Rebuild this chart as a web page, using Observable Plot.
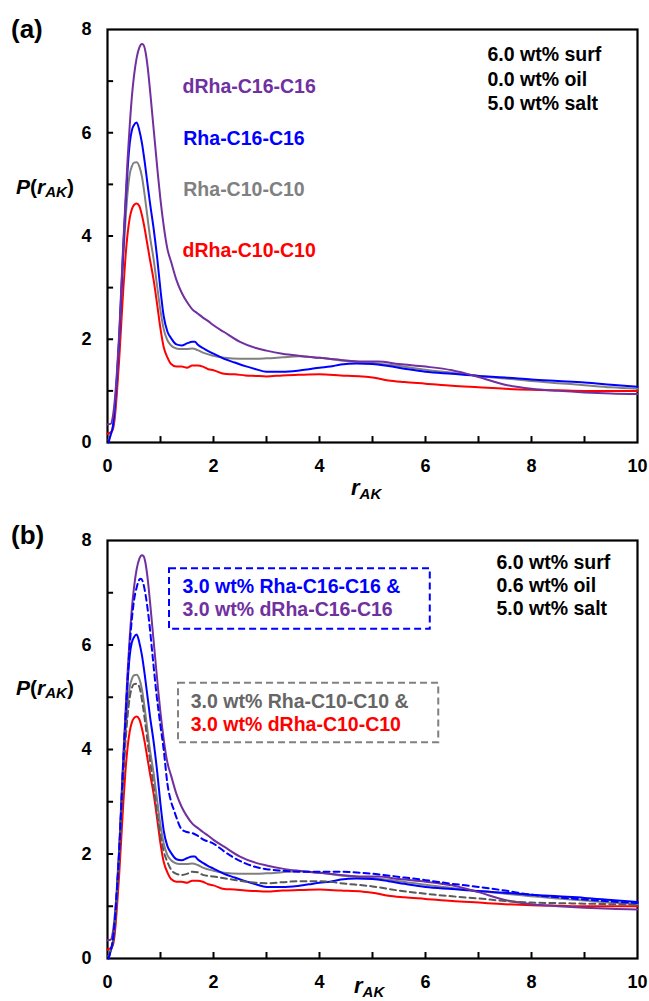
<!DOCTYPE html>
<html><head><meta charset="utf-8">
<script src="https://cdn.jsdelivr.net/npm/d3@7"></script>
<script src="https://cdn.jsdelivr.net/npm/@observablehq/plot@0.6"></script>
<style>
body{margin:0;background:#fff;}
#wrap{position:relative;width:649px;height:1001px;font-family:"Liberation Sans",Arial,sans-serif;}
.panel{position:absolute;left:0;}
svg{overflow:visible}
</style></head><body>
<div id="wrap"><div id="pa" class="panel" style="top:0"></div><div id="pb" class="panel" style="top:505px"></div></div>
<script>
// ---- data ----
const rDRhaC16 = [0,0.06,0.1,0.14,0.18,0.22,0.26,0.3,0.34,0.38,0.42,0.46,0.5,0.55,0.6,0.65,0.68,0.72,0.76,0.8,0.85,0.9,0.95,1.0,1.06,1.13,1.2,1.3,1.4,1.5,1.6,1.7,1.8,1.9,2.0,2.2,2.5,2.8,3.0,3.3,3.6,4.0,4.4,4.8,5.1,5.5,6.0,6.5,7.0,7.5,8.0,8.5,9.0,9.5,10];
const pDRhaC16 = [0.35,0.36,0.5,0.85,1.4,2.1,3.0,3.9,4.7,5.5,6.15,6.7,7.1,7.45,7.65,7.72,7.7,7.55,7.25,6.85,6.3,5.75,5.2,4.7,4.2,3.75,3.5,3.15,2.9,2.72,2.58,2.5,2.42,2.35,2.27,2.14,1.95,1.83,1.78,1.72,1.68,1.64,1.6,1.57,1.57,1.52,1.47,1.4,1.27,1.12,1.04,1.0,0.97,0.95,0.94];

const rRhaC16 = [0.02,0.06,0.1,0.14,0.18,0.22,0.26,0.3,0.34,0.38,0.42,0.46,0.5,0.55,0.6,0.65,0.7,0.75,0.8,0.87,0.94,1.0,1.06,1.13,1.2,1.3,1.4,1.5,1.6,1.65,1.7,1.8,1.9,2.0,2.2,2.4,2.6,2.8,3.0,3.2,3.5,3.8,4.0,4.2,4.4,4.7,5.0,5.3,5.6,6.0,6.5,7.0,7.5,8.0,8.5,9.0,9.5,10];
const pRhaC16 = [0,0.15,0.3,0.7,1.3,2.0,2.9,3.8,4.6,5.3,5.8,6.05,6.15,6.2,6.05,5.8,5.45,5.05,4.65,4.15,3.55,2.95,2.45,2.15,2.02,1.9,1.88,1.92,1.95,1.95,1.9,1.83,1.77,1.72,1.62,1.55,1.48,1.42,1.37,1.37,1.38,1.42,1.45,1.47,1.51,1.53,1.52,1.48,1.43,1.37,1.33,1.29,1.26,1.22,1.19,1.16,1.12,1.08];

const rRhaC10 = [0.02,0.06,0.1,0.14,0.18,0.22,0.26,0.3,0.34,0.38,0.42,0.46,0.5,0.55,0.6,0.65,0.7,0.75,0.8,0.87,0.94,1.0,1.06,1.13,1.2,1.3,1.4,1.5,1.6,1.7,1.8,2.0,2.2,2.5,2.8,3.0,3.3,3.6,4.0,4.5,5.0,5.5,6.0,6.5,7.0,7.5,8.0,8.5,9.0,9.5,10];
const pRhaC10 = [0.05,0.15,0.3,0.65,1.25,1.95,2.8,3.6,4.3,4.85,5.2,5.35,5.42,5.43,5.35,5.15,4.8,4.4,4.0,3.55,3.0,2.55,2.2,1.98,1.88,1.82,1.81,1.81,1.82,1.79,1.74,1.68,1.64,1.62,1.62,1.63,1.65,1.67,1.64,1.58,1.54,1.48,1.41,1.35,1.29,1.24,1.19,1.15,1.11,1.07,1.04];

const rDRhaC10 = [0,0.06,0.1,0.14,0.18,0.22,0.26,0.3,0.34,0.38,0.42,0.46,0.5,0.55,0.6,0.65,0.7,0.75,0.8,0.87,0.94,1.0,1.06,1.13,1.2,1.3,1.4,1.5,1.6,1.7,1.8,1.9,2.0,2.2,2.4,2.6,2.8,3.0,3.3,3.6,4.0,4.4,4.8,5.0,5.3,5.6,6.0,6.5,7.0,7.5,8.0,8.5,9.0,9.5,10];
const pDRhaC10 = [0.17,0.2,0.25,0.5,1.0,1.6,2.3,3.0,3.6,4.05,4.35,4.52,4.6,4.63,4.58,4.4,4.15,3.85,3.55,3.15,2.65,2.2,1.85,1.65,1.52,1.47,1.47,1.45,1.49,1.49,1.47,1.42,1.4,1.33,1.32,1.3,1.29,1.28,1.3,1.31,1.32,1.3,1.28,1.26,1.2,1.17,1.14,1.1,1.07,1.04,1.02,1.01,1.0,1.0,1.0];

// panel (b) mixtures (dashed)
const rMixC16 = [0.02,0.06,0.1,0.14,0.18,0.22,0.26,0.3,0.34,0.38,0.42,0.46,0.5,0.55,0.6,0.63,0.67,0.72,0.78,0.85,0.92,1.0,1.06,1.13,1.2,1.25,1.3,1.4,1.5,1.6,1.7,1.8,2.0,2.2,2.4,2.6,2.8,3.0,3.3,3.6,4.0,4.4,4.8,5.2,5.6,6.0,6.5,7.0,7.5,8.0,8.5,9.0,9.5,10];
const pMixC16 = [0,0.15,0.35,0.75,1.35,2.05,2.9,3.8,4.6,5.35,6.0,6.5,6.85,7.1,7.25,7.27,7.2,6.95,6.5,5.8,5.1,4.45,4.0,3.35,3.0,2.85,2.7,2.47,2.42,2.4,2.35,2.28,2.2,2.05,1.92,1.82,1.75,1.71,1.68,1.66,1.66,1.66,1.64,1.6,1.55,1.5,1.43,1.37,1.3,1.22,1.17,1.13,1.09,1.06];

const rMixC10 = [0.02,0.06,0.1,0.14,0.18,0.22,0.26,0.3,0.34,0.38,0.42,0.46,0.5,0.55,0.6,0.65,0.7,0.75,0.8,0.87,0.94,1.0,1.06,1.13,1.2,1.3,1.4,1.5,1.6,1.7,1.8,2.0,2.3,2.6,3.0,3.3,3.6,4.0,4.5,5.0,5.5,6.0,6.5,7.0,7.5,8.0,8.5,9.0,9.5,10];
const pMixC10 = [0.05,0.15,0.3,0.65,1.25,1.95,2.75,3.5,4.15,4.65,5.0,5.18,5.25,5.26,5.2,4.95,4.6,4.2,3.8,3.3,2.75,2.35,2.05,1.85,1.7,1.62,1.6,1.62,1.66,1.65,1.6,1.57,1.52,1.47,1.44,1.46,1.48,1.48,1.43,1.38,1.3,1.24,1.19,1.15,1.1,1.07,1.06,1.05,1.04,1.03];

const seriesNames = ["dRha-C16-C16","Rha-C16-C16","Rha-C10-C10","dRha-C10-C10"];
const condA = ["6.0 wt% surf","0.0 wt% oil","5.0 wt% salt"];
const condB = ["6.0 wt% surf","0.6 wt% oil","5.0 wt% salt"];
const mixC16 = ["3.0 wt% Rha-C16-C16 &","3.0 wt% dRha-C16-C16"];
const mixC10 = ["3.0 wt% Rha-C10-C10 &","3.0 wt% dRha-C10-C10"];
const xTicks = [0,2,4,6,8,10];
const yTicks = [0,2,4,6,8];
const xMinor = [1,2,3,4,5,6,7,8,9];
const yMinor = [1,2,3,4,5,6,7];

// ---- helpers ----
const rows = (xs, ys) => xs.map((x, i) => ({r: x, p: ys[i]}));
const PURPLE = "#7030A0", BLUE = "#0000FF", GRAY = "#808080", RED = "#FF0000", DGRAY = "#595959";
const FONT = "Liberation Sans, Arial, sans-serif";
const TICK_X = 0.115, TICK_Y = 0.115; // inward tick length (~6px) in data units

function axes() {
  return [
    // inward tick marks along the bottom and left edges
    Plot.ruleX(xMinor, {x: d => d, y1: 0, y2: TICK_Y, stroke: "black", strokeWidth: 2}),
    Plot.ruleY(yMinor, {y: d => d, x1: 0, x2: TICK_X, stroke: "black", strokeWidth: 2}),
    Plot.axisX({ticks: xTicks, tickSize: 0, tickPadding: 17, fontSize: 18, fontWeight: "bold", fill: "black", label: null}),
    Plot.axisY({ticks: yTicks, tickSize: 0, tickPadding: 16, fontSize: 18, fontWeight: "bold", fill: "black", label: null}),
    Plot.frame({stroke: "black", strokeWidth: 2.2})
  ];
}
function solidLines() {
  return [
    Plot.line(rows(rDRhaC10, pDRhaC10), {x: "r", y: "p", stroke: RED, strokeWidth: 2, curve: "monotone-x"}),
    Plot.line(rows(rRhaC10, pRhaC10), {x: "r", y: "p", stroke: GRAY, strokeWidth: 2, curve: "monotone-x"}),
    Plot.line(rows(rRhaC16, pRhaC16), {x: "r", y: "p", stroke: BLUE, strokeWidth: 2, curve: "monotone-x"}),
    Plot.line(rows(rDRhaC16, pDRhaC16), {x: "r", y: "p", stroke: PURPLE, strokeWidth: 2, curve: "monotone-x"})
  ];
}
const txt = (s, x, y, color, extra = {}) => Plot.text([s], {x: () => x, y: () => y, text: d => d, fill: color, textAnchor: "start", lineAnchor: "middle", fontSize: 19.5, fontWeight: "bold", fontFamily: FONT, ...extra});

const common = {width: 649, marginLeft: 107, marginRight: 12, style: {fontFamily: FONT, overflow: "visible"}, x: {domain: [0, 10], axis: null}, y: {domain: [0, 8], axis: null}};

const plotA = Plot.plot({
  ...common, height: 505, marginTop: 29, marginBottom: 63,
  marks: [
    ...axes(),
    ...solidLines(),
    txt(seriesNames[0], 1.415, 6.90, PURPLE),
    txt(seriesNames[1], 1.43, 5.89, BLUE),
    txt(seriesNames[2], 1.43, 4.90, GRAY),
    txt(seriesNames[3], 1.415, 3.72, RED),
    txt(condA[0], 7.17, 7.52, "black"),
    txt(condA[1], 7.17, 7.03, "black"),
    txt(condA[2], 7.17, 6.56, "black")
  ]
});

const plotB = Plot.plot({
  ...common, height: 496, marginTop: 35, marginBottom: 43,
  marks: [
    ...axes(),
    ...solidLines(),
    Plot.line(rows(rMixC10, pMixC10), {x: "r", y: "p", stroke: DGRAY, strokeWidth: 2, strokeDasharray: "6,4", curve: "monotone-x"}),
    Plot.line(rows(rMixC16, pMixC16), {x: "r", y: "p", stroke: BLUE, strokeWidth: 2, strokeDasharray: "6,4", curve: "monotone-x"}),
    Plot.rect([0], {x1: () => 1.17, x2: () => 6.09, y1: () => 6.30, y2: () => 7.46, stroke: BLUE, strokeWidth: 2, strokeDasharray: "7,4", fill: "none"}),
    Plot.rect([0], {x1: () => 1.34, x2: () => 6.25, y1: () => 4.13, y2: () => 5.27, stroke: GRAY, strokeWidth: 2, strokeDasharray: "7,4", fill: "none"}),
    txt(mixC16[0], 1.415, 7.11, BLUE),
    txt(mixC16[1], 1.415, 6.68, PURPLE),
    txt(mixC10[0], 1.57, 4.92, "#666666"),
    txt(mixC10[1], 1.57, 4.47, RED),
    txt(condB[0], 7.34, 7.58, "black"),
    txt(condB[1], 7.34, 7.13, "black"),
    txt(condB[2], 7.34, 6.69, "black")
  ]
});

document.getElementById("pa").appendChild(plotA);
document.getElementById("pb").appendChild(plotB);

// rich-text labels (italic & subscripts)
function addLabels(svgNode, panel, panelY, yLabY, xLabX, xLabY) {
  const svg = d3.select(svgNode);
  svg.append("text").attr("x", 11).attr("y", panelY).attr("text-anchor", "start").attr("font-family", FONT)
    .attr("font-size", 26).attr("font-weight", "bold").attr("fill", "black").text(panel);
  const yl = svg.append("text").attr("x", 16).attr("y", yLabY).attr("text-anchor", "start").attr("font-family", FONT)
    .attr("font-size", 21).attr("font-weight", "bold").attr("fill", "black");
  yl.append("tspan").attr("font-style", "italic").text("P");
  yl.append("tspan").text("(");
  yl.append("tspan").attr("font-style", "italic").text("r");
  yl.append("tspan").attr("font-style", "italic").attr("font-size", 15).attr("dy", 3).text("AK");
  yl.append("tspan").attr("dy", -3).text(")");
  const xl = svg.append("text").attr("x", xLabX).attr("y", xLabY).attr("text-anchor", "start").attr("font-family", FONT)
    .attr("font-size", 22).attr("font-weight", "bold").attr("fill", "black");
  xl.append("tspan").attr("font-style", "italic").text("r");
  xl.append("tspan").attr("font-style", "italic").attr("font-size", 15).attr("dy", 4).text("AK");
}
addLabels(plotA, "(a)", 38, 194, 351, 495);
addLabels(plotB, "(b)", 39, 190, 354, 488);
</script>
</body></html>
